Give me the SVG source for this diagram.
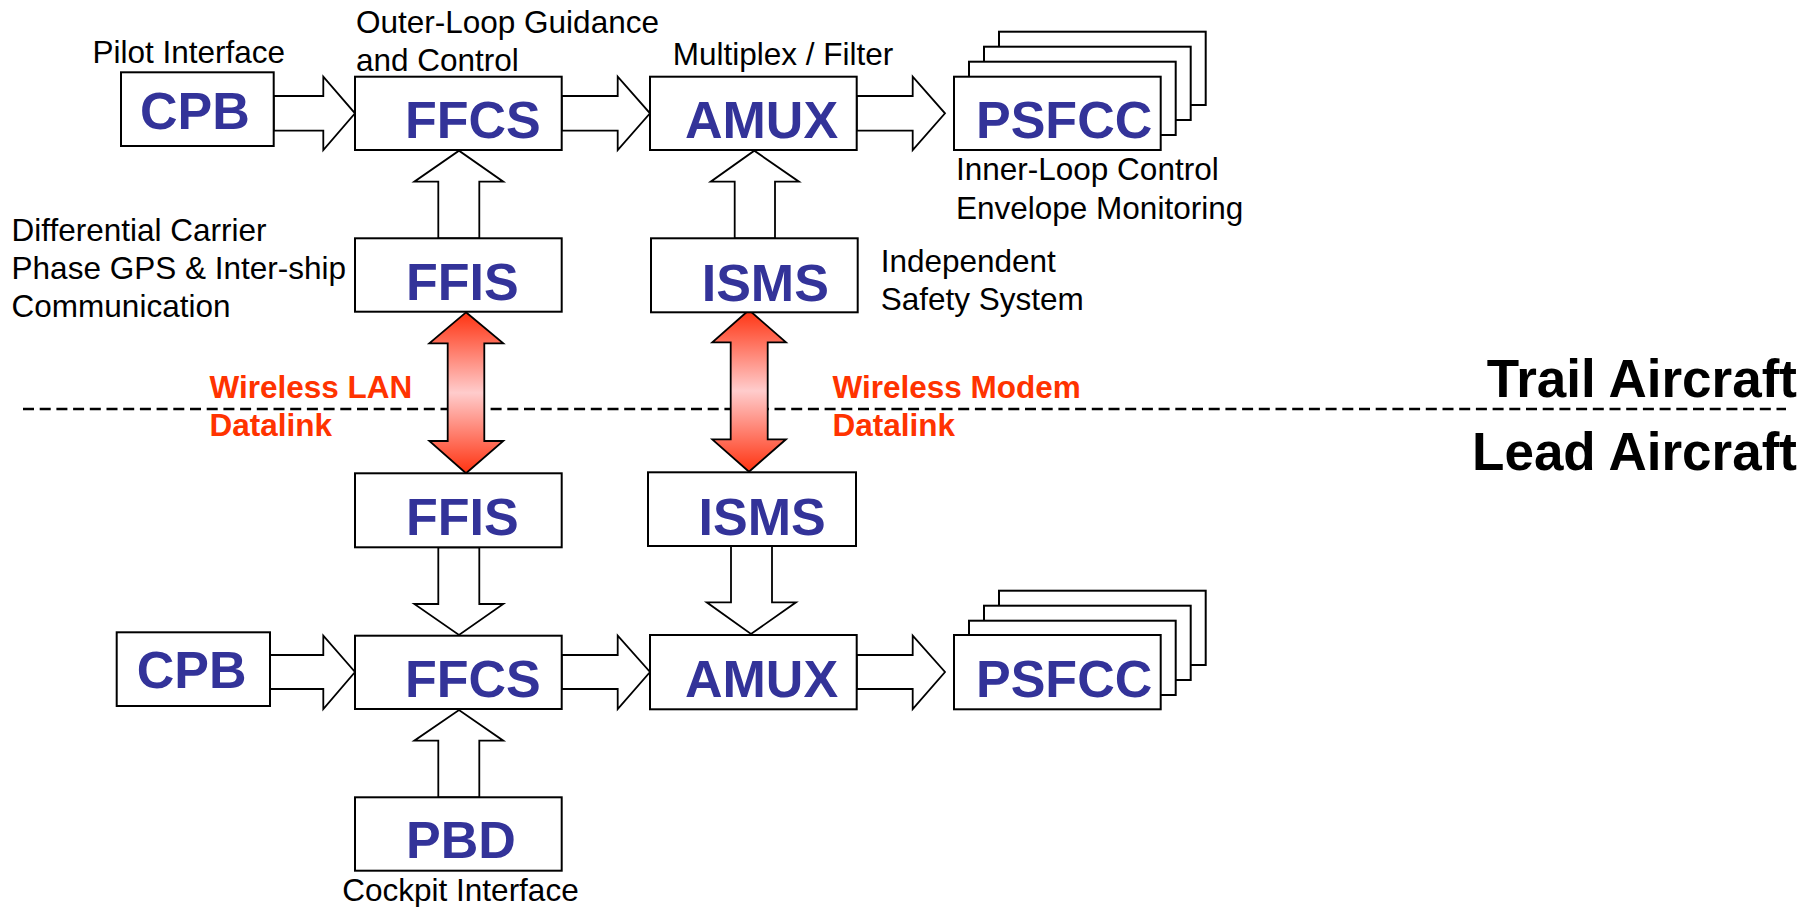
<svg xmlns="http://www.w3.org/2000/svg" width="1818" height="907" viewBox="0 0 1818 907">
<defs>
<style>
.box{fill:#fff;stroke:#000;stroke-width:2}
.arr{fill:#fff;stroke:#000;stroke-width:1.8;stroke-linejoin:miter}
.dbl{fill:url(#redgrad);stroke:#000;stroke-width:1.8}
.nl{font-family:"Liberation Sans",Arial,sans-serif;font-weight:bold;font-size:52px;fill:#333399}
.lbl{font-family:"Liberation Sans",Arial,sans-serif;font-size:31.5px;fill:#000}
.red{font-family:"Liberation Sans",Arial,sans-serif;font-weight:bold;font-size:31.5px;fill:#FF3300}
.side{font-family:"Liberation Sans",Arial,sans-serif;font-weight:bold;font-size:53px;fill:#000}
</style>
<linearGradient id="redgrad" x1="0" y1="0" x2="0" y2="1">
<stop offset="0" stop-color="#FF3311"/>
<stop offset="0.5" stop-color="#FFCCCC"/>
<stop offset="1" stop-color="#FF3311"/>
</linearGradient>
</defs>
<rect width="1818" height="907" fill="#fff"/>

<!-- divider -->
<line x1="23" y1="409" x2="1786" y2="409" stroke="#000" stroke-width="2.5" stroke-dasharray="11 5.7"/>
<text class="side" x="1797" y="397" text-anchor="end">Trail Aircraft</text>
<text class="side" x="1797" y="470" text-anchor="end">Lead Aircraft</text>

<g id="connectors">
<!-- top row horizontal -->
<polygon class="arr" points="273.7,96 323.3,96 323.3,76.7 355,113.3 323.3,150 323.3,130.6 273.7,130.6"/>
<polygon class="arr" points="561.7,96 617.7,96 617.7,76.7 650,113.3 617.7,150 617.7,130.6 561.7,130.6"/>
<polygon class="arr" points="856.7,96 912.7,96 912.7,76.7 945,113.3 912.7,150 912.7,130.6 856.7,130.6"/>
<!-- top vertical up -->
<polygon class="arr" points="438.3,238.3 438.3,181.7 414.3,181.7 459,150.7 503.3,181.7 479.3,181.7 479.3,238.3"/>
<polygon class="arr" points="734.7,238.3 734.7,181.7 710.7,181.7 754.3,150.7 799,181.7 775,181.7 775,238.3"/>
<!-- datalinks -->
<polygon class="dbl" points="466,312.3 503.3,343.3 484.3,343.3 484.3,441 503.3,441 466,473.3 429.3,441 447.7,441 447.7,343.3 429.3,343.3"/>
<polygon class="dbl" points="749,310 786,342.3 767.7,342.3 767.7,439.3 786,439.3 749,471.7 712.3,439.3 730.7,439.3 730.7,342.3 712.3,342.3"/>
<!-- bottom vertical down -->
<polygon class="arr" points="438.3,547.3 479.3,547.3 479.3,604 503.3,604 459,635 414.3,604 438.3,604"/>
<polygon class="arr" points="731,546 772,546 772,602.3 796,602.3 751,634 706.7,602.3 731,602.3"/>
<!-- bottom row horizontal -->
<polygon class="arr" points="270,655 323.3,655 323.3,635.7 355,672 323.3,709 323.3,689 270,689"/>
<polygon class="arr" points="561.7,655 617.7,655 617.7,635.7 650,672 617.7,709 617.7,689 561.7,689"/>
<polygon class="arr" points="856.7,655 912.7,655 912.7,635.7 945,672 912.7,709 912.7,689 856.7,689"/>
<!-- PBD up -->
<polygon class="arr" points="438.3,797.3 438.3,740.7 414.3,740.7 459,710 503.3,740.7 479.3,740.7 479.3,797.3"/>
</g>

<!-- Trail aircraft nodes -->
<g id="cpb-top"><rect class="box" x="121" y="72.3" width="152.7" height="73.7"/><text class="nl" x="140" y="129.3">CPB</text></g>
<g id="ffcs-top"><rect class="box" x="355" y="76.7" width="206.7" height="73.3"/><text class="nl" x="405" y="138.3">FFCS</text></g>
<g id="amux-top"><rect class="box" x="650" y="76.7" width="206.7" height="73.3"/><text class="nl" x="685" y="138.3">AMUX</text></g>
<g id="psfcc-top">
<rect class="box" x="999" y="31.7" width="206.7" height="73.3"/>
<rect class="box" x="984" y="46.7" width="206.7" height="73.3"/>
<rect class="box" x="969" y="61.7" width="206.7" height="73.3"/>
<rect class="box" x="954" y="76.7" width="206.7" height="73.3"/>
<text class="nl" x="976" y="138.3">PSFCC</text></g>
<g id="ffis-top"><rect class="box" x="355" y="238.3" width="206.7" height="73.4"/><text class="nl" x="406" y="300">FFIS</text></g>
<g id="isms-top"><rect class="box" x="651" y="238.3" width="206.7" height="74"/><text class="nl" x="701.7" y="300.7">ISMS</text></g>

<!-- Lead aircraft nodes -->
<g id="ffis-bottom"><rect class="box" x="355" y="473.3" width="206.7" height="74"/><text class="nl" x="406" y="535">FFIS</text></g>
<g id="isms-bottom"><rect class="box" x="648" y="472.3" width="208" height="73.7"/><text class="nl" x="698.5" y="534.5">ISMS</text></g>
<g id="cpb-bottom"><rect class="box" x="116.7" y="632.3" width="153.3" height="73.7"/><text class="nl" x="136.7" y="688.3">CPB</text></g>
<g id="ffcs-bottom"><rect class="box" x="355" y="635.7" width="206.7" height="73.3"/><text class="nl" x="405" y="696.7">FFCS</text></g>
<g id="amux-bottom"><rect class="box" x="650" y="635" width="206.7" height="74.3"/><text class="nl" x="685" y="696.7">AMUX</text></g>
<g id="psfcc-bottom">
<rect class="box" x="999" y="590.7" width="206.7" height="74.3"/>
<rect class="box" x="984" y="605.7" width="206.7" height="74.3"/>
<rect class="box" x="969" y="620.7" width="206.7" height="74.3"/>
<rect class="box" x="954" y="635" width="206.7" height="74.3"/>
<text class="nl" x="976" y="696.7">PSFCC</text></g>
<g id="pbd"><rect class="box" x="355" y="797.3" width="206.7" height="73.4"/><text class="nl" x="406" y="858.3">PBD</text></g>

<!-- annotations -->
<g id="labels">
<text class="lbl" x="92.5" y="63.3">Pilot Interface</text>
<text class="lbl" x="356" y="33">Outer-Loop Guidance</text>
<text class="lbl" x="356" y="70.7">and Control</text>
<text class="lbl" x="672.7" y="65">Multiplex / Filter</text>
<text class="lbl" x="956" y="180">Inner-Loop Control</text>
<text class="lbl" x="956" y="219">Envelope Monitoring</text>
<text class="lbl" x="11.6" y="240.5">Differential Carrier</text>
<text class="lbl" x="11.6" y="278.5">Phase GPS &amp; Inter-ship</text>
<text class="lbl" x="11.6" y="316.7">Communication</text>
<text class="lbl" x="880.7" y="271.7">Independent</text>
<text class="lbl" x="880.7" y="310.3">Safety System</text>
<text class="lbl" x="342.3" y="900.7">Cockpit Interface</text>
<text class="red" x="209.5" y="398.3">Wireless LAN</text>
<text class="red" x="209.5" y="436">Datalink</text>
<text class="red" x="832.5" y="398.3">Wireless Modem</text>
<text class="red" x="832.5" y="436">Datalink</text>
</g>
</svg>
